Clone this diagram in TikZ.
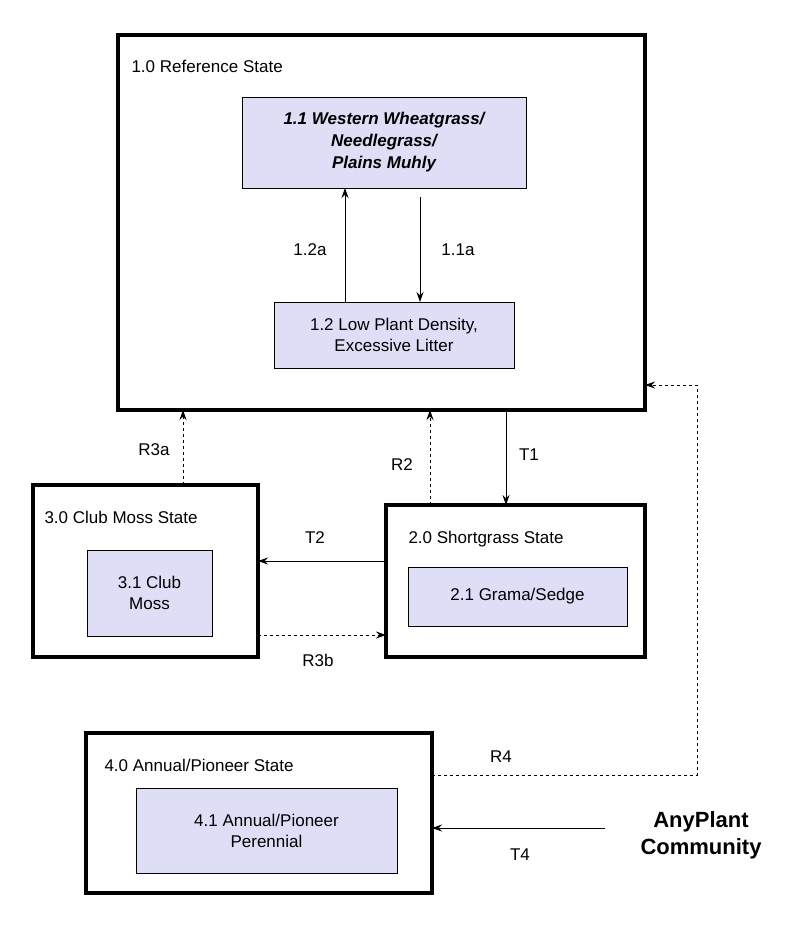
\documentclass[tikz,border=0pt]{standalone}
\usepackage{fontspec}
\setmainfont{Liberation Sans}
\usetikzlibrary{arrows.meta}
\definecolor{lav}{RGB}{222,222,246}
\begin{document}
\begin{tikzpicture}[x=1pt,y=-1pt,
  state/.style={draw,line width=3.5pt},
  comm/.style={draw,fill=lav,line width=0.8pt},
  lbl/.style={font=\fontsize{17}{21}\selectfont,align=center},
  arr/.style={-{Stealth[length=10pt,width=7pt]},line width=0.9pt},
  darr/.style={arr,dashed}]
\useasboundingbox (0,0) rectangle (800,936);
% states
\draw[state] (118,35) rectangle (645,410);
\node[lbl,anchor=west] (s1) at (128,66) {1.0 Reference State};
\draw[state] (33,485) rectangle (258,657);
\node[lbl,anchor=west] (s3) at (41,517) {3.0 Club Moss State};
\draw[state] (386,505) rectangle (645,657);
\node[lbl,anchor=west] (s2) at (405,539) {2.0 Shortgrass State};
\draw[state] (86,733) rectangle (432,893);
\node[lbl,anchor=west] (s4) at (101,765) {4.0 Annual/Pioneer State};
% communities
\node[comm,lbl,minimum width=284pt,minimum height=91pt,font=\fontsize{17}{22}\selectfont\bfseries\itshape] (c11) at (384,142.5) {1.1 Western Wheatgrass/\\Needlegrass/\\Plains Muhly};
\node[comm,lbl,minimum width=240pt,minimum height=66pt] (c12) at (394,335) {1.2 Low Plant Density,\\Excessive Litter};
\node[comm,lbl,minimum width=125pt,minimum height=86pt] (c31) at (149.5,593) {3.1 Club\\Moss};
\node[comm,lbl,minimum width=219pt,minimum height=59pt] (c21) at (517.5,596.5) {2.1 Grama/Sedge};
\node[comm,lbl,minimum width=261pt,minimum height=85pt] (c41) at (266.5,830.5) {4.1 Annual/Pioneer\\Perennial};
\node[lbl,font=\fontsize{22}{27}\selectfont\bfseries] (any) at (701,835) {AnyPlant\\Community};
% coordinates
\coordinate (a1) at (345,302); \coordinate (a2) at (345,188);
\coordinate (b1) at (420,197); \coordinate (b2) at (420,302);
\coordinate (r3a1) at (183,485); \coordinate (r3a2) at (183,410);
\coordinate (r21) at (430,505); \coordinate (r22) at (430,410);
\coordinate (t11) at (506,410); \coordinate (t12) at (506,505);
\coordinate (t21) at (386,561); \coordinate (t22) at (258,561);
\coordinate (r3b1) at (258,635); \coordinate (r3b2) at (386,635);
\coordinate (r41) at (432,775); \coordinate (r4c1) at (697,775); \coordinate (r4c2) at (697,385); \coordinate (r42) at (645,385);
\coordinate (t41) at (605,828); \coordinate (t42) at (432,828);
% arrows
\draw[arr] (a1) -- (a2);
\draw[arr] (b1) -- (b2);
\draw[darr] (r3a1) -- (r3a2);
\draw[darr] (r21) -- (r22);
\draw[arr] (t11) -- (t12);
\draw[arr] (t21) -- (t22);
\draw[darr] (r3b1) -- (r3b2);
\draw[darr] (r41) -- (r4c1) -- (r4c2) -- (r42);
\draw[arr] (t41) -- (t42);
% labels
\node[lbl] (l1) at (310,250) {1.2a};
\node[lbl] (l2) at (458,250) {1.1a};
\node[lbl] (l3) at (154,450) {R3a};
\node[lbl] (l4) at (402,465) {R2};
\node[lbl] (l5) at (529,455) {T1};
\node[lbl] (l6) at (315,538) {T2};
\node[lbl] (l7) at (318,660) {R3b};
\node[lbl] (l8) at (501,757) {R4};
\node[lbl] (l9) at (520,855) {T4};
\end{tikzpicture}
\end{document}
